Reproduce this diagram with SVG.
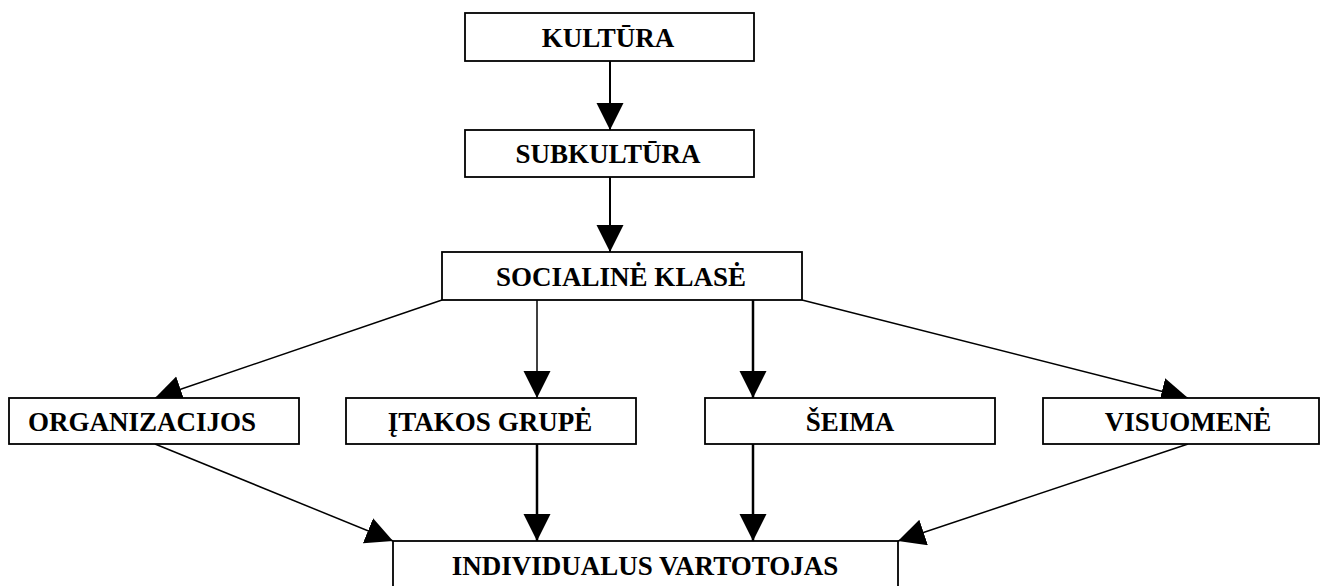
<svg xmlns="http://www.w3.org/2000/svg" width="1321" height="586" viewBox="0 0 1321 586">
<style>
.box{fill:#fff;stroke:#000;stroke-width:1.8}
.t{font-family:"Liberation Serif","Times New Roman",serif;font-weight:bold;font-size:27px;fill:#000;text-anchor:middle}
.c{stroke:#000;fill:none}
</style>
<defs>
<marker id="ah" markerUnits="userSpaceOnUse" markerWidth="28" markerHeight="28" refX="27" refY="13.5" orient="auto" viewBox="0 0 28 28">
<path d="M0,0 L27,13.5 L0,27 z" fill="#000"/>
</marker>
</defs>
<rect width="1321" height="586" fill="#fff"/>
<g id="connectors">
<line class="c" x1="610" y1="61" x2="610" y2="130" stroke-width="2" marker-end="url(#ah)"/>
<line class="c" x1="610" y1="177" x2="610" y2="252" stroke-width="2" marker-end="url(#ah)"/>
<line class="c" x1="442" y1="300" x2="155" y2="398" stroke-width="1.5" marker-end="url(#ah)"/>
<line class="c" x1="537" y1="300" x2="537" y2="398" stroke-width="1.5" marker-end="url(#ah)"/>
<line class="c" x1="753" y1="300" x2="753" y2="398" stroke-width="2.5" marker-end="url(#ah)"/>
<line class="c" x1="802" y1="300" x2="1188" y2="398" stroke-width="1.5" marker-end="url(#ah)"/>
<line class="c" x1="155" y1="444" x2="393" y2="541" stroke-width="1.5" marker-end="url(#ah)"/>
<line class="c" x1="537" y1="444" x2="537" y2="541" stroke-width="2.5" marker-end="url(#ah)"/>
<line class="c" x1="753" y1="444" x2="753" y2="541" stroke-width="2.5" marker-end="url(#ah)"/>
<line class="c" x1="1188" y1="444" x2="898" y2="541" stroke-width="1.5" marker-end="url(#ah)"/>
</g>
<g id="kultura"><rect class="box" x="465" y="13" width="289" height="48"/><text class="t" x="608" y="47">KULTŪRA</text></g>
<g id="subkultura"><rect class="box" x="465" y="130" width="289" height="47"/><text class="t" x="608" y="163">SUBKULTŪRA</text></g>
<g id="socialine"><rect class="box" x="442" y="252" width="360" height="48"/><text class="t" x="621" y="286">SOCIALINĖ KLASĖ</text></g>
<g id="organizacijos"><rect class="box" x="9" y="398" width="290" height="46"/><text class="t" x="142" y="431">ORGANIZACIJOS</text></g>
<g id="itakos"><rect class="box" x="346" y="398" width="290" height="46"/><text class="t" x="490" y="431">ĮTAKOS GRUPĖ</text></g>
<g id="seima"><rect class="box" x="705" y="398" width="290" height="46"/><text class="t" x="850" y="431">ŠEIMA</text></g>
<g id="visuomene"><rect class="box" x="1043" y="398" width="276" height="46"/><text class="t" x="1188" y="431">VISUOMENĖ</text></g>
<g id="individualus"><rect class="box" x="393" y="541" width="505" height="60"/><text class="t" x="645" y="575">INDIVIDUALUS VARTOTOJAS</text></g>
</svg>
